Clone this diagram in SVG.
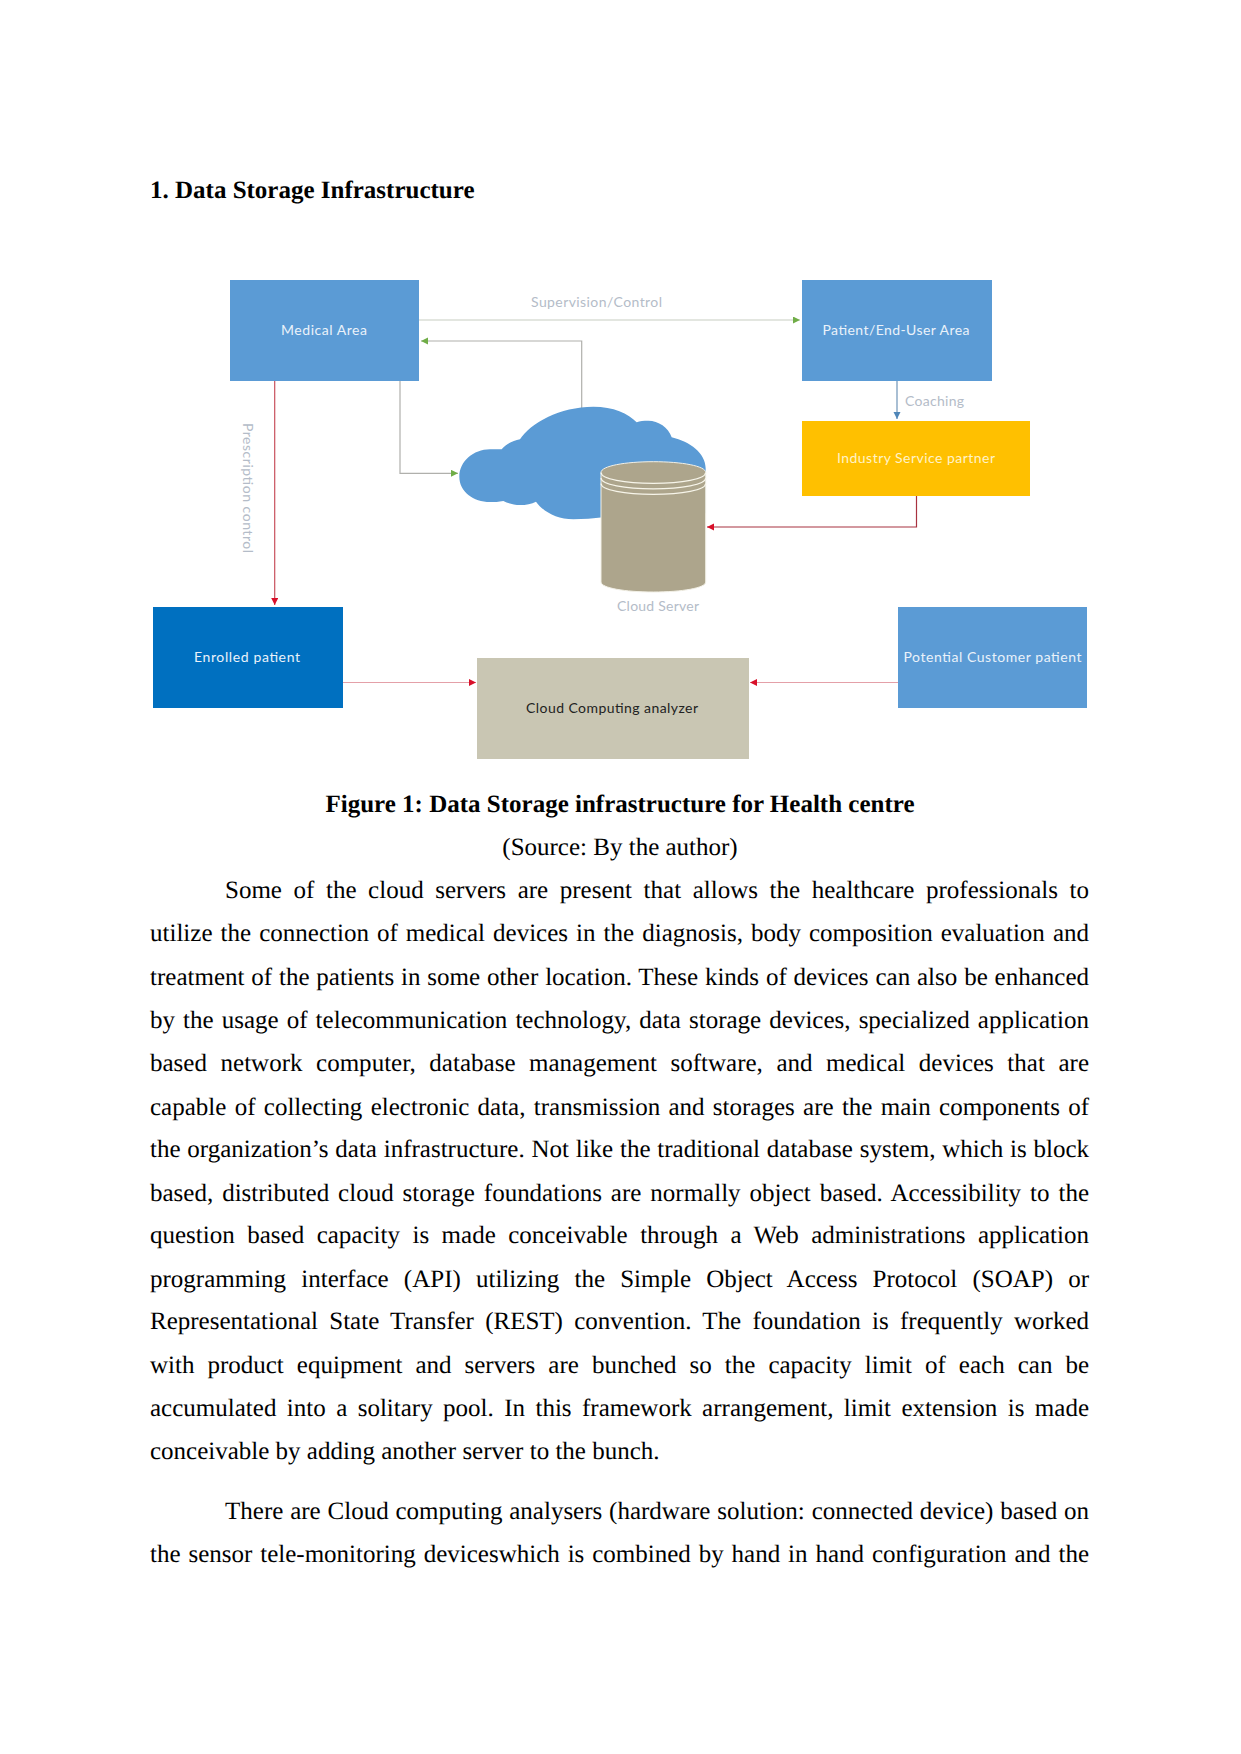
<svg xmlns="http://www.w3.org/2000/svg" width="1241" height="1754" viewBox="0 0 1241 1754">
<style>
.b{font:25px "Liberation Serif",serif;fill:#000;text-rendering:geometricPrecision}
.h{font:bold 25px "Liberation Serif",serif;fill:#000;text-rendering:geometricPrecision}
.n{font:14px Lato,"Liberation Sans",sans-serif;fill:#eaf2fa;text-anchor:middle}
.l{font:14px Lato,"Liberation Sans",sans-serif;fill:#b4bcc8}
.c{fill:none;stroke-width:1.2}
</style>
<defs>
<marker id="g" markerWidth="8" markerHeight="8" refX="7" refY="3.5" orient="auto" markerUnits="userSpaceOnUse"><path d="M0 0L7 3.5L0 7z" fill="#70AD47"/></marker>
<marker id="r" markerWidth="8" markerHeight="8" refX="7" refY="3.5" orient="auto" markerUnits="userSpaceOnUse"><path d="M0 0L7 3.5L0 7z" fill="#D8102A"/></marker>
<marker id="u" markerWidth="8" markerHeight="8" refX="7" refY="3.5" orient="auto" markerUnits="userSpaceOnUse"><path d="M0 0L7 3.5L0 7z" fill="#4F86B8"/></marker>
</defs>
<rect width="1241" height="1754" fill="#fff"/>
<text class="h" x="150" y="198">1. Data Storage Infrastructure</text>

<g id="connectors">
<path class="c" stroke="#c8cdc2" marker-end="url(#g)" d="M419 320H800"/>
<path class="c" stroke="#b0b0ac" marker-end="url(#g)" d="M581.700 408V341H421"/>
<path class="c" stroke="#b0b0ac" marker-end="url(#g)" d="M400 381V473.300H458"/>
<path class="c" stroke="#c8505c" marker-end="url(#r)" d="M274.700 381V605"/>
<path class="c" stroke="#6f94b8" marker-end="url(#u)" d="M897 381V419"/>
<path class="c" stroke="#a83240" marker-end="url(#r)" d="M916.500 496V527H707"/>
<path class="c" stroke="#e4a0a8" marker-end="url(#r)" d="M343 682.500H476"/>
<path class="c" stroke="#e4a0a8" marker-end="url(#r)" d="M898 682.500H750"/>
</g>

<g id="medical-area"><rect x="230" y="280" width="189" height="101" fill="#5B9BD5"/><text class="n" x="324" y="335" textLength="86">Medical Area</text></g>
<g id="patient-area"><rect x="802" y="280" width="190" height="101" fill="#5B9BD5"/><text class="n" x="896" y="335" textLength="147">Patient/End-User Area</text></g>
<g id="industry-partner"><rect x="802" y="421" width="228" height="75" fill="#FFC000"/><text class="n" x="916" y="463" textLength="158" style="fill:#fff3c8">Industry Service partner</text></g>
<g id="cloud"><path fill="#5B9BD5" transform="translate(440 390) scale(.33333)" d="M58 260C58 215 100 178 150 178C165 178 175 178 185 178C200 160 220 152 240 148C270 100 360 50 460 50C520 50 565 70 590 97C600 92 610 92 625 92C655 92 685 112 695 142C750 155 797 190 797 235V370L490 382C460 386 430 388 400 388C350 388 310 365 288 335C275 342 258 345 240 345C222 345 205 340 190 333C175 336 165 336 150 336C100 336 58 305 58 260Z"/></g>
<g id="cloud-server">
<path fill="#ADA58C" stroke="#f2f0e6" stroke-width="1" d="M601 472.500C601 466 625 461.700 653.300 461.700C682 461.700 705.700 466 705.700 472.500V582C705.700 588 682 592 653.300 592C625 592 601 588 601 582Z"/>
<path fill="none" stroke="#f7f5ea" stroke-width="1.200" d="M601 472.500C601 479 625 483.300 653.300 483.300C682 483.300 705.700 479 705.700 472.500M601 478C601 484.500 625 488.800 653.300 488.800C682 488.800 705.700 484.500 705.700 478M601 483.500C601 490 625 494.300 653.300 494.300C682 494.300 705.700 490 705.700 483.500"/>
<text class="l" x="617" y="611" textLength="82">Cloud Server</text>
</g>
<g id="enrolled-patient"><rect x="153" y="607" width="190" height="101" fill="#0070C0"/><text class="n" x="247" y="662" textLength="106">Enrolled patient</text></g>
<g id="potential-customer"><rect x="898" y="607" width="189" height="101" fill="#5B9BD5"/><text class="n" x="992.500" y="662" textLength="178">Potential Customer patient</text></g>
<g id="analyzer"><rect x="477" y="658" width="272" height="101" fill="#C9C6B3"/><text class="n" x="612" y="713" textLength="172" style="fill:#222">Cloud Computing analyzer</text></g>

<text class="l" x="531" y="307" textLength="131">Supervision/Control</text>
<text class="l" x="905" y="406" textLength="59">Coaching</text>
<text class="l" transform="translate(243 423) rotate(90)" textLength="130">Prescription control</text>

<text class="h" x="620" y="812" text-anchor="middle">Figure 1: Data Storage infrastructure for Health centre</text>
<text class="b" x="620" y="855" text-anchor="middle">(Source: By the author)</text>

<text class="b" x="225" y="898" word-spacing="5.35" textLength="864">Some of the cloud servers are present that allows the healthcare professionals to</text>
<text class="b" x="150" y="941" word-spacing="1.81" textLength="939">utilize the connection of medical devices in the diagnosis, body composition evaluation and</text>
<text class="b" x="150" y="985" word-spacing="0.58" textLength="939">treatment of the patients in some other location. These kinds of devices can also be enhanced</text>
<text class="b" x="150" y="1028" word-spacing="1.8" textLength="939">by the usage of telecommunication technology, data storage devices, specialized application</text>
<text class="b" x="150" y="1071" word-spacing="7.26" textLength="939">based network computer, database management software, and medical devices that are</text>
<text class="b" x="150" y="1115" word-spacing="2.05" textLength="939">capable of collecting electronic data, transmission and storages are the main components of</text>
<text class="b" x="150" y="1157" word-spacing="0.5" textLength="939">the organization’s data infrastructure. Not like the traditional database system, which is block</text>
<text class="b" x="150" y="1201" word-spacing="2.71" textLength="939">based, distributed cloud storage foundations are normally object based. Accessibility to the</text>
<text class="b" x="150" y="1243" word-spacing="6.22" textLength="939">question based capacity is made conceivable through a Web administrations application</text>
<text class="b" x="150" y="1287" word-spacing="8.88" textLength="939">programming interface (API) utilizing the Simple Object Access Protocol (SOAP) or</text>
<text class="b" x="150" y="1329" word-spacing="5.05" textLength="939">Representational State Transfer (REST) convention. The foundation is frequently worked</text>
<text class="b" x="150" y="1373" word-spacing="6.77" textLength="939">with product equipment and servers are bunched so the capacity limit of each can be</text>
<text class="b" x="150" y="1416" word-spacing="4.13" textLength="939">accumulated into a solitary pool. In this framework arrangement, limit extension is made</text>
<text class="b" x="150" y="1459">conceivable by adding another server to the bunch.</text>
<text class="b" x="225" y="1518.500" word-spacing="0.59" textLength="864">There are Cloud computing analysers (hardware solution: connected device) based on</text>
<text class="b" x="150" y="1562" word-spacing="1.64" textLength="939">the sensor tele-monitoring deviceswhich is combined by hand in hand configuration and the</text>
</svg>
